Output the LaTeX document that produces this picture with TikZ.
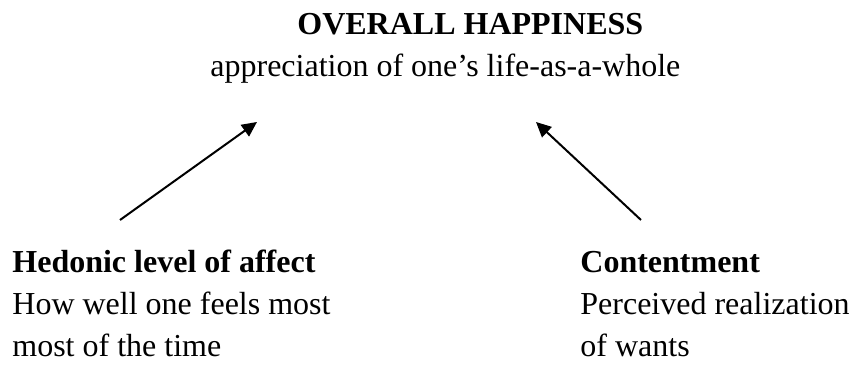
\documentclass[tikz,border=0pt]{standalone}
\usepackage{fontspec}
\setmainfont{Liberation Serif}
\usetikzlibrary{arrows.meta, positioning, calc}

\begin{document}
\begin{tikzpicture}[
    x=0.5pt, y=-0.5pt,
    txt/.style={
        inner sep=0pt, align=left,
        font=\fontsize{16pt}{21pt}\selectfont
    },
    arr/.style={-{Triangle[length=7.5pt, width=7pt]}, line width=1pt, black},
]
\useasboundingbox (0,0) rectangle (853,367);

% Nodes
\node[txt, anchor=base west] (happy) at (297,35) {\textbf{OVERALL HAPPINESS}};
\node[txt, anchor=base west] (appr) at (210,77) {appreciation of one’s life-as-a-whole};
\node[txt, anchor=base west] (hedonic) at (12,357)
    {\textbf{Hedonic level of affect}\\How well one feels most\\most of the time};
\node[txt, anchor=base west] (content) at (580,357)
    {\textbf{Contentment}\\Perceived realization\\of wants};

% Arrow ends
\coordinate (hedtail) at (120,220);
\coordinate (hedtip) at (257,122);
\coordinate (contail) at (641,220);
\coordinate (contip) at (536,122);

% Arrows up to overall happiness
\draw[arr] (hedtail) -- (hedtip);
\draw[arr] (contail) -- (contip);

\end{tikzpicture}
\end{document}
